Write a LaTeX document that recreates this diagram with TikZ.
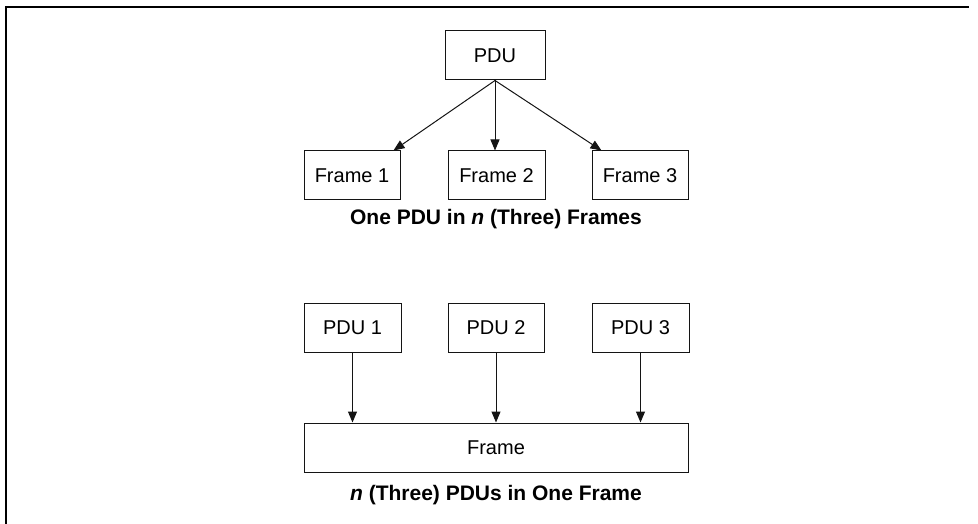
\documentclass[tikz,border=0pt]{standalone}
\usepackage{fontspec}
\setmainfont{Liberation Sans}
\usepackage{xcolor}
\usetikzlibrary{arrows.meta}
\definecolor{boxblack}{RGB}{20, 20, 20}

\tikzset{
  unitbox/.style={draw=boxblack, line width=1pt, inner sep=0pt, minimum height=49pt,
    font=\fontsize{20}{24}\selectfont},
  caption/.style={font=\fontsize{21}{25}\selectfont\bfseries},
  flow/.style={draw=boxblack, line width=1pt, -{Triangle[length=11pt,width=9pt]}}
}

\begin{document}
\begin{tikzpicture}[x=1pt, y=-1pt]
					\useasboundingbox (0,0) rectangle (978,524);
					\draw[line width=2pt, line cap=rect] (6,524) -- (6,7) -- (968,7);

					% one PDU split over three frames
					\node[unitbox, minimum width=100pt] (pdu) at (495,55.5) {PDU};
					\node[unitbox, minimum width=96pt] (f1) at (352,175.5) {Frame 1};
					\node[unitbox, minimum width=97pt] (f2) at (496.5,175.5) {Frame 2};
					\node[unitbox, minimum width=96pt] (f3) at (640,175.5) {Frame 3};
					\draw[flow] (pdu.south) -- ([xshift=-7pt]f1.north east);
					\draw[flow] (pdu.south) -- (pdu.south |- f2.north);
					\draw[flow] (pdu.south) -- ([xshift=10pt]f3.north west);
					\node[caption] (cap1) at (496,219) {One PDU in \textit{n} (Three) Frames};

					% three PDUs packed in one frame
					\node[unitbox, minimum width=97pt] (p1) at (352.5,327.5) {PDU 1};
					\node[unitbox, minimum width=96pt] (p2) at (496,327.5) {PDU 2};
					\node[unitbox, minimum width=97pt] (p3) at (640.5,327.5) {PDU 3};
					\node[unitbox, minimum width=384pt] (fr) at (496,447.5) {Frame};
					\draw[flow] (p1.south) -- (p1.south |- fr.north);
					\draw[flow] (p2.south) -- (p2.south |- fr.north);
					\draw[flow] (p3.south) -- (p3.south |- fr.north);
					\node[caption] (cap2) at (496,495) {\textit{n} (Three) PDUs in One Frame};
				\end{tikzpicture}
\end{document}
